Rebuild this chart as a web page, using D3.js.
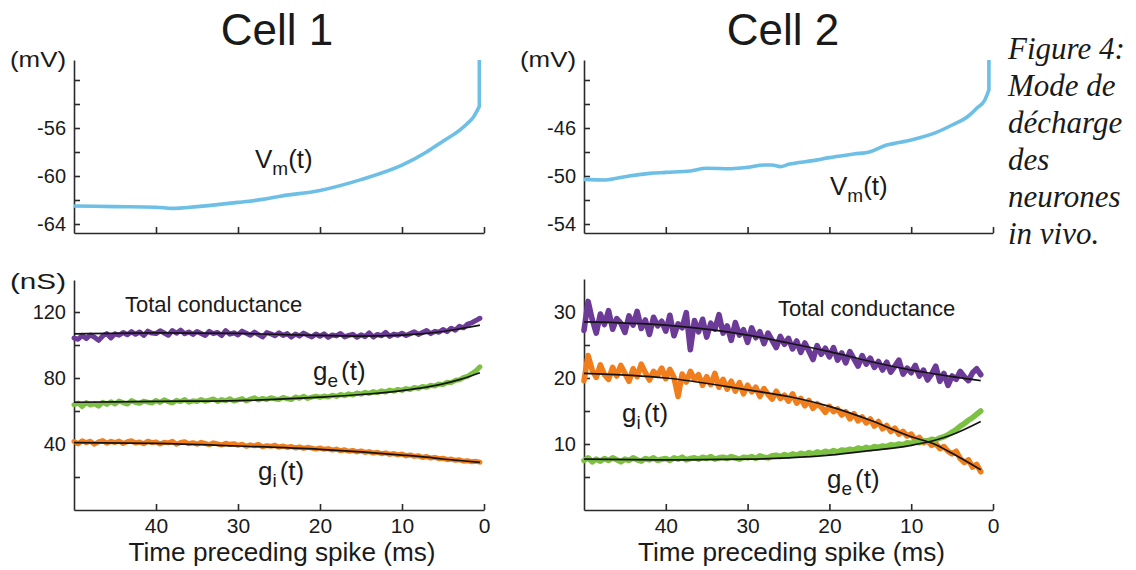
<!DOCTYPE html>
<html>
<head>
<meta charset="utf-8">
<script src="https://cdn.jsdelivr.net/npm/d3@7"></script>
<style>
  html, body { margin: 0; padding: 0; background: #fff; }
  svg { display: block; }
  text { font-family: "Liberation Sans", Arial, Helvetica, sans-serif; fill: #1a1a1a; }
</style>
</head>
<body>
<svg id="fig" width="1136" height="570"></svg>
<script>
// ---------------- data ----------------
const cellTitles = ["Cell 1", "Cell 2"];
const captionLines = ["Figure 4:", "Mode de", "décharge", "des", "neurones", "in vivo."];
const xTickValues = [40, 30, 20, 10, 0];

// membrane potential before the spike (ms before spike, mV); last point is the spike upstroke
const vm1Times  = [50, 45, 40, 38, 35, 30, 27, 25, 20, 15, 10, 7, 5, 3, 2, 1.3, 0.57, 0.57];
const vm1Values = [-62.5, -62.55, -62.6, -62.7, -62.55, -62.2, -61.95, -61.7, -61.2, -60.3, -59.1, -58.0, -57.1, -56.2, -55.6, -55.1, -54.2, -50.33];
const vm2Times  = [50, 47.4, 45, 42, 40, 37, 35, 32, 30, 28, 27, 26, 25, 22, 20, 17, 15, 13, 12, 10, 7, 5, 3, 2, 1, 0.5, 0.5];
const vm2Values = [-50.28, -50.33, -50.06, -49.78, -49.7, -49.58, -49.36, -49.39, -49.28, -49.08, -49.08, -49.22, -49.03, -48.72, -48.47, -48.17, -47.97, -47.42, -47.28, -47.0, -46.39, -45.75, -45.0, -44.36, -43.67, -42.83, -40.33];

const vm1Ticks = [-64, -62, -60, -58, -56, -54, -52];
const vm1Labels = [-64, -60, -56];
const vm2Ticks = [-54, -52, -50, -48, -46, -44, -42];
const vm2Labels = [-54, -50, -46];

// conductance traces, sampled every 0.5 ms starting 50 ms before the spike (nS)
const c1Total = [
  104.2, 103.5, 105.8, 103.9, 106.1, 104.7, 102.8, 105.5, 106.9, 104.3,
  106.8, 105.9, 107.6, 106.2, 108.1, 106.5, 107.9, 105.8, 108.4, 107.2,
  106.9, 108.6, 107.3, 105.9, 108.8, 107.1, 109.0, 106.8, 107.9, 106.4,
  108.2, 107.0, 105.8, 108.3, 106.9, 107.6, 105.7, 108.7, 106.6, 107.4,
  106.1, 108.4, 107.2, 105.9, 107.8, 106.3, 104.9, 107.5, 106.8, 105.6,
  107.4, 105.8, 106.9, 104.8, 106.6, 105.4, 107.2, 105.9, 104.9, 106.7,
  105.3, 106.8, 104.6, 106.1, 105.5, 107.0, 104.9, 105.8, 106.5, 104.7,
  106.2, 105.1, 107.3, 104.8, 106.4, 105.6, 107.7, 105.2, 106.6, 105.9,
  107.1, 105.8, 106.9, 108.0, 106.4, 107.6, 108.8, 106.9, 108.3, 107.7,
  109.4, 108.1, 110.2, 109.0, 111.3, 110.4, 112.6, 113.5, 114.8, 116.2];
const c1Ge = [
  63.8, 64.9, 62.7, 65.1, 63.6, 64.4, 62.9, 65.3, 64.0, 65.6,
  64.3, 66.1, 65.0, 64.2, 66.3, 65.1, 64.6, 66.0, 65.4, 64.8,
  66.4, 65.2, 66.8, 65.6, 64.9, 66.5, 65.7, 66.9, 65.3, 66.2,
  65.8, 67.0, 65.9, 66.6, 67.3, 65.8, 66.9, 66.2, 67.4, 66.0,
  66.8, 67.5, 66.1, 67.2, 68.0, 66.7, 67.6, 66.9, 68.1, 67.3,
  67.0, 68.2, 67.4, 66.9, 68.5, 67.7, 68.9, 67.6, 68.4, 69.0,
  68.2, 69.1, 68.5, 69.6, 68.8, 70.0, 69.3, 70.4, 69.7, 70.9,
  70.2, 71.3, 70.6, 71.8, 71.1, 72.2, 71.5, 72.7, 72.0, 73.1,
  72.5, 73.6, 73.0, 74.2, 73.7, 74.8, 74.4, 75.6, 75.1, 76.3,
  76.0, 77.4, 77.2, 78.6, 78.9, 80.3, 81.0, 82.6, 84.3, 86.8];
const c1Gi = [
  41.5, 40.2, 42.0, 40.8, 41.7, 39.9, 41.3, 42.1, 40.5, 41.6,
  40.9, 41.8, 40.3, 41.4, 42.0, 40.6, 41.2, 40.1, 41.7, 40.8,
  41.3, 40.0, 41.1, 40.7, 41.6, 39.8, 40.9, 41.4, 40.2, 40.8,
  39.9, 41.0, 40.3, 39.6, 40.7, 40.1, 39.4, 40.5, 39.8, 40.2,
  39.2, 39.9, 38.6, 39.5, 38.9, 39.7, 38.3, 39.0, 38.6, 39.3,
  38.1, 38.8, 37.9, 38.5, 37.6, 38.2, 37.3, 38.0, 37.5, 36.9,
  37.6, 36.8, 37.2, 36.3, 36.9, 35.9, 36.5, 35.6, 36.1, 35.2,
  35.8, 34.9, 35.4, 34.5, 35.0, 34.1, 34.6, 33.7, 34.2, 33.4,
  33.9, 32.8, 33.4, 32.5, 32.9, 31.8, 32.4, 31.5, 31.9, 31.1,
  31.4, 30.5, 30.9, 30.1, 30.4, 29.6, 29.9, 29.2, 29.5, 29.0];

const c2Total = [
  27.2, 31.6, 28.9, 26.8, 29.7, 28.1, 30.2, 27.4, 29.0, 28.3,
  26.9, 29.4, 28.0, 30.1, 27.5, 28.8, 26.6, 29.2, 27.9, 28.6,
  27.1, 29.5, 26.4, 28.2, 27.6, 29.9, 24.3, 28.7, 27.0, 28.9,
  26.2, 28.3, 27.4, 29.6, 26.8, 27.9, 25.7, 28.4, 26.5, 27.3,
  25.4, 27.6, 26.1, 27.0, 25.2, 26.8, 25.7, 24.6, 26.3, 25.1,
  26.0, 24.4, 25.6, 23.9, 25.3, 24.1, 22.8, 24.9, 23.6, 24.5,
  23.2, 24.6, 22.7, 23.8, 22.3, 24.0, 22.9, 21.8, 23.4, 22.1,
  23.0, 21.6, 22.5, 21.2, 22.4, 20.9, 21.8, 22.7, 20.6, 21.5,
  20.8, 21.9, 20.3, 21.2, 19.7, 20.6, 21.8, 19.5, 20.7, 18.9,
  20.3, 19.8, 21.0, 20.2, 19.6, 20.8, 21.4, 20.5];
const c2Gi = [
  19.6, 23.4, 21.2, 20.1, 22.0, 20.5, 19.8, 21.6, 20.3, 21.9,
  20.7, 19.5, 21.4, 20.2, 22.1, 20.8, 19.7, 21.0, 20.4, 21.5,
  19.9, 21.3, 20.1, 17.2, 20.6, 19.4, 21.0, 19.8, 20.5, 18.9,
  20.2, 19.0, 20.7, 18.6, 19.8, 18.3, 19.5, 18.0, 19.3, 17.6,
  18.9, 17.9, 18.6, 17.2, 18.4, 17.5, 16.8, 18.0, 16.9, 17.4,
  16.5, 17.6, 16.2, 16.9, 15.8, 16.6, 15.4, 16.1, 15.6, 14.8,
  15.7, 14.9, 15.3, 14.4, 14.9, 13.8, 14.6, 13.5, 14.1, 13.2,
  13.8, 12.7, 13.4, 12.3, 12.8, 11.9, 12.4, 11.5, 11.9, 11.2,
  11.5, 10.6, 11.0, 10.2, 10.5, 9.8, 10.1, 9.3, 9.6, 8.9,
  8.5, 8.9, 7.8, 7.2, 7.6, 6.5, 6.9, 5.8];
const c2Ge = [
  7.5, 7.9, 7.3, 7.7, 7.4, 7.8, 7.5, 7.9, 7.6, 7.3,
  7.7, 7.5, 7.9, 7.6, 7.4, 7.8, 7.6, 7.9, 7.5, 7.7,
  7.8, 7.5, 7.9, 7.7, 8.0, 7.6, 7.8, 7.9, 7.7, 8.0,
  7.8, 8.1, 7.7, 7.9, 8.0, 7.8, 8.1, 7.9, 7.7, 8.0,
  7.9, 8.1, 7.8, 8.2, 8.0, 7.9, 8.2, 8.3, 8.1, 8.4,
  8.2, 8.5, 8.3, 8.6, 8.4, 8.7, 8.5, 8.8, 8.6, 8.9,
  8.7, 9.0, 8.8, 9.1, 9.0, 9.2, 9.1, 9.4, 9.2, 9.5,
  9.3, 9.6, 9.5, 9.7, 9.6, 9.9, 9.8, 10.0, 9.9, 10.2,
  10.1, 10.3, 10.2, 10.5, 10.4, 10.7, 10.6, 10.9, 11.1, 11.4,
  11.8, 12.2, 12.7, 13.1, 13.6, 14.0, 14.5, 15.0];

const traceStart = 50;   // ms before spike of the first sample
const traceStep = 0.5;   // ms between samples

// smooth fits through the conductance traces
const fit1Times = [50, 40, 30, 20, 15, 10, 7, 5, 3, 0.5];
const fit1Total = [106.7, 107.3, 107.0, 105.8, 105.4, 106.0, 107.0, 108.2, 109.8, 112.0];
const fit1Ge    = [65.3, 65.8, 66.3, 68.4, 70.0, 72.4, 74.5, 76.4, 79.0, 83.2];
const fit1Gi    = [40.8, 40.4, 38.8, 36.8, 35.2, 33.3, 32.0, 30.9, 30.0, 28.9];
const fit2Times = [50, 40, 30, 25, 20, 15, 10, 7, 5, 1.5];
const fit2Total = [28.5, 28.0, 26.5, 25.3, 24.0, 22.5, 21.2, 20.6, 20.2, 19.6];
const fit2Gi    = [20.7, 20.0, 18.2, 17.2, 15.7, 13.6, 11.1, 9.9, 8.6, 6.1];
const fit2Ge    = [7.7, 7.6, 7.7, 7.9, 8.3, 9.0, 9.8, 10.6, 11.4, 13.4];

const g1Ticks = [20, 40, 60, 80, 100, 120];
const g1Labels = [40, 80, 120];
const g2Ticks = [5, 10, 15, 20, 25, 30];
const g2Labels = [10, 20, 30];

// ---------------- drawing ----------------
const svg = d3.select("#fig");
const COL = { vm: "#6dbfe6", total: "#6c3b98", ge: "#7dc142", gi: "#f07e1d", fit: "#141414", axis: "#2a2a2a" };

function styleAxis(g, size) {
  g.attr("font-family", null).attr("font-size", size);
  g.selectAll("path.domain").attr("stroke", COL.axis).attr("stroke-width", 1.6);
  g.selectAll(".tick line").attr("stroke", COL.axis).attr("stroke-width", 1.6);
  g.selectAll(".tick text").attr("fill", "#1a1a1a");
}

function panel(cfg) {
  const x = d3.scaleLinear().domain([50, 0]).range([cfg.x0, cfg.x1]);
  const y = d3.scaleLinear().domain(cfg.yDomain).range([cfg.yBottom, cfg.yTop]);

  const ya = d3.axisLeft(y).tickValues(cfg.yTicks).tickSize(-6).tickSizeOuter(0).tickPadding(8)
    .tickFormat(d => cfg.yLabels.includes(d) ? String(d) : "");
  styleAxis(svg.append("g").attr("transform", `translate(${cfg.x0},0)`).call(ya), 20);

  const xa = d3.axisBottom(x).tickValues(xTickValues).tickSize(-6).tickSizeOuter(0).tickPadding(8)
    .tickFormat(d => cfg.xLabels ? String(d) : "");
  styleAxis(svg.append("g").attr("transform", `translate(0,${cfg.yBottom})`).call(xa), 21);
  return { x, y };
}

const layout = [
  { x0: 74, x1: 484, title: 277 },
  { x0: 584, x1: 993, title: 783 }
];

cellTitles.forEach((t, i) => {
  svg.append("text").attr("x", layout[i].title).attr("y", 45).attr("text-anchor", "middle")
    .attr("font-size", 44).text(t);
});

// membrane potential panels
const vmSets = [
  { times: vm1Times, values: vm1Values, domain: [-64.75, -50.333], ticks: vm1Ticks, labels: vm1Labels },
  { times: vm2Times, values: vm2Values, domain: [-54.75, -40.333], ticks: vm2Ticks, labels: vm2Labels }
];
vmSets.forEach((s, i) => {
  const p = panel({ x0: layout[i].x0, x1: layout[i].x1, yTop: 60, yBottom: 233,
    yDomain: s.domain, yTicks: s.ticks, yLabels: s.labels, xLabels: false });
  const pts = s.values.map((v, k) => [p.x(s.times[k]), p.y(v)]);
  const n = pts.length;
  // smooth subthreshold approach, then the straight upstroke of the spike
  const smooth = d3.line().curve(d3.curveMonotoneX)(pts.slice(0, n - 1));
  const upstroke = d3.line()(pts.slice(n - 2));
  svg.append("path").attr("d", smooth + upstroke.replace(/^M/, "L")).attr("fill", "none")
    .attr("stroke", COL.vm).attr("stroke-width", 3.6).attr("stroke-linejoin", "round");
  svg.append("text").attr("x", layout[i].x0 - 64).attr("y", 67).attr("font-size", 22)
    .attr("textLength", 56).attr("lengthAdjust", "spacingAndGlyphs").text("(mV)");
});

// conductance panels
const gSets = [
  { domain: [0, 139.4], yTop: 280, ticks: g1Ticks, labels: g1Labels, width: 5,
    traces: [[c1Total, COL.total], [c1Ge, COL.ge], [c1Gi, COL.gi]],
    fitTimes: fit1Times, fits: [fit1Total, fit1Ge, fit1Gi] },
  { domain: [0, 35], yTop: 279, ticks: g2Ticks, labels: g2Labels, width: 5.6,
    traces: [[c2Total, COL.total], [c2Gi, COL.gi], [c2Ge, COL.ge]],
    fitTimes: fit2Times, fits: [fit2Total, fit2Gi, fit2Ge] }
];
gSets.forEach((s, i) => {
  const p = panel({ x0: layout[i].x0, x1: layout[i].x1, yTop: s.yTop, yBottom: 510,
    yDomain: s.domain, yTicks: s.ticks, yLabels: s.labels, xLabels: true });
  const raw = d3.line().x((d, k) => p.x(traceStart - k * traceStep)).y(d => p.y(d));
  s.traces.forEach(([vals, col]) => {
    svg.append("path").attr("d", raw(vals)).attr("fill", "none").attr("stroke", col)
      .attr("stroke-width", s.width).attr("stroke-linejoin", "round").attr("stroke-linecap", "round");
  });
  const fit = d3.line().x((d, k) => p.x(s.fitTimes[k])).y(d => p.y(d)).curve(d3.curveMonotoneX);
  s.fits.forEach(vals => {
    svg.append("path").attr("d", fit(vals)).attr("fill", "none").attr("stroke", COL.fit)
      .attr("stroke-width", 1.7);
  });
  svg.append("text").attr("x", (layout[i].x0 + layout[i].x1) / 2 + 3).attr("y", 561)
    .attr("text-anchor", "middle").attr("font-size", 25)
    .attr("textLength", 307).attr("lengthAdjust", "spacingAndGlyphs")
    .text("Time preceding spike (ms)");
});

svg.append("text").attr("x", 10).attr("y", 289).attr("font-size", 22)
  .attr("textLength", 56).attr("lengthAdjust", "spacingAndGlyphs").text("(nS)");

// series labels
function subLabel(x, y, main, sub, gap) {
  const t = svg.append("text").attr("x", x).attr("y", y).attr("font-size", 26);
  t.append("tspan").text(main);
  t.append("tspan").attr("font-size", 19).attr("dy", 7).text(sub);
  t.append("tspan").attr("dy", -7).attr("dx", gap).text("(t)");
}
subLabel(255, 168, "V", "m", 0);
subLabel(830, 195, "V", "m", 0);
subLabel(313, 380, "g", "e", 3);
subLabel(258, 480, "g", "i", 3);
subLabel(622, 422, "g", "i", 3);
subLabel(827, 488, "g", "e", 3);

svg.append("text").attr("x", 125).attr("y", 312).attr("font-size", 22).text("Total conductance");
svg.append("text").attr("x", 778).attr("y", 316).attr("font-size", 22).text("Total conductance");

// caption
captionLines.forEach((line, i) => {
  svg.append("text").attr("x", 1008).attr("y", 59 + i * 37)
    .style("font-family", '"Liberation Serif", "Times New Roman", serif')
    .style("font-style", "italic").attr("font-size", 31).attr("fill", "#111").text(line);
});
</script>
</body>
</html>
